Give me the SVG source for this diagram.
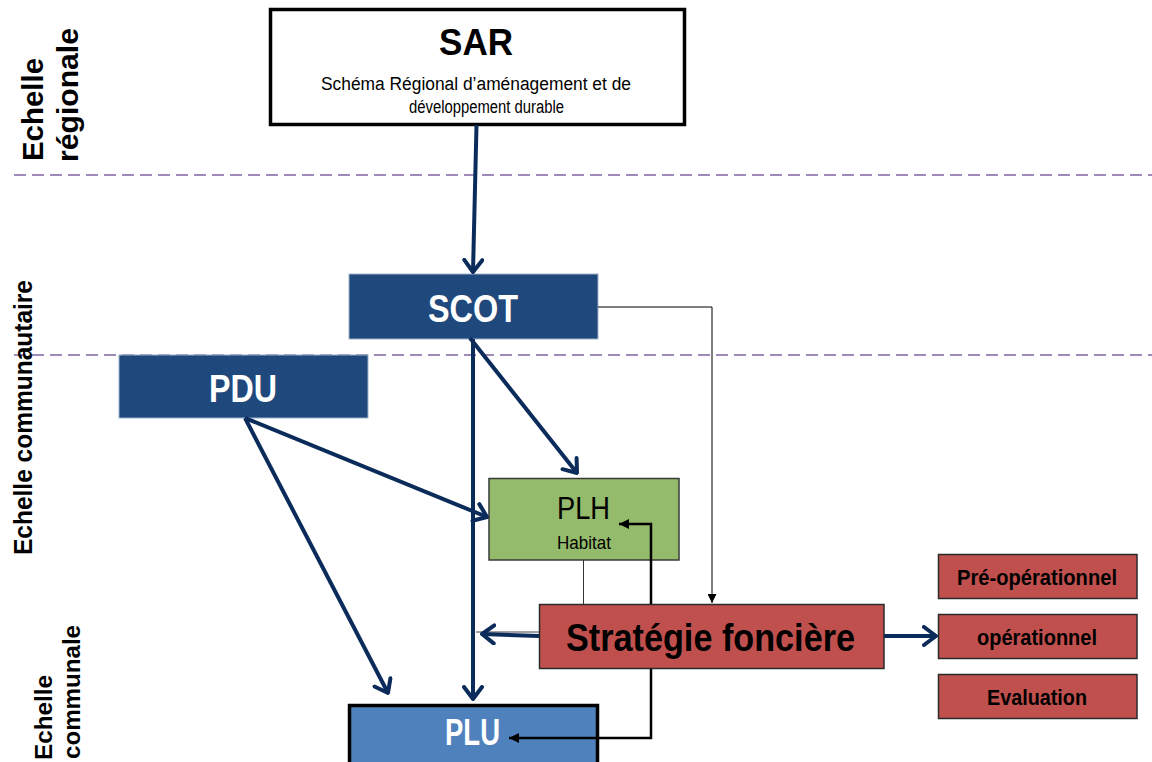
<svg xmlns="http://www.w3.org/2000/svg" width="1152" height="762" viewBox="0 0 1152 762">
<style>
.axis{font-family:"Liberation Sans",Arial,sans-serif;font-weight:bold;fill:#000}
.cond{font-family:"Liberation Sans Narrow","Liberation Sans",Arial,sans-serif}
.w{fill:#fff;font-weight:bold}
.b{fill:#000;font-weight:bold}
.nav{stroke:#0b2c5b;stroke-width:4;fill:none}
.blk{stroke:#000;stroke-width:2.5;fill:none}
.thin{stroke:#000;stroke-width:1;fill:none}
.dash{stroke:#8064A2;stroke-width:1.5;stroke-dasharray:12 6;fill:none}
.dark{fill:#1F497D;stroke:#9fb3cc;stroke-width:1}
.red{fill:#C0504D;stroke:#2a2a2a;stroke-width:1.5}
</style>
<defs>
<marker id="chev" markerUnits="userSpaceOnUse" viewBox="0 0 16 22" refX="14" refY="11" markerWidth="16" markerHeight="22" orient="auto">
<path d="M2,2 L14,11 L2,20" fill="none" stroke="#0b2c5b" stroke-width="4" stroke-linecap="round" stroke-linejoin="round"/>
</marker>
<marker id="tri" markerUnits="userSpaceOnUse" viewBox="0 0 10 10" refX="10" refY="5" markerWidth="11" markerHeight="10" orient="auto">
<path d="M0,0 L10,5 L0,10 Z" fill="#000"/>
</marker>
<marker id="tris" markerUnits="userSpaceOnUse" viewBox="0 0 10 10" refX="10" refY="5" markerWidth="9" markerHeight="9" orient="auto">
<path d="M0,0 L10,5 L0,10 Z" fill="#000"/>
</marker>
</defs>
<rect width="1152" height="762" fill="#fff"/>

<g id="separators">
<line class="dash" x1="14" y1="175" x2="1152" y2="175"/>
<line class="dash" x1="14" y1="355" x2="1152" y2="355"/>
</g>

<g id="axis-labels">
<text class="axis" font-size="29" transform="translate(43,161) rotate(-90)" textLength="103" lengthAdjust="spacingAndGlyphs">Echelle</text>
<text class="axis" font-size="29" transform="translate(78,162) rotate(-90)" textLength="134" lengthAdjust="spacingAndGlyphs">régionale</text>
<text class="axis" font-size="25" transform="translate(32,555) rotate(-90)" textLength="275" lengthAdjust="spacingAndGlyphs">Echelle communautaire</text>
<text class="axis" font-size="24" transform="translate(52,760) rotate(-90)" textLength="85" lengthAdjust="spacingAndGlyphs">Echelle</text>
<text class="axis" font-size="24" transform="translate(80,759) rotate(-90)" textLength="134" lengthAdjust="spacingAndGlyphs">communale</text>
</g>

<g id="sar">
<rect x="270.5" y="9.5" width="414" height="115" fill="#fff" stroke="#000" stroke-width="3.5"/>
<text x="476" y="55" text-anchor="middle" font-family="Liberation Sans, Arial, sans-serif" font-weight="bold" font-size="37" textLength="74" lengthAdjust="spacingAndGlyphs">SAR</text>
<text class="cond" x="476" y="90" text-anchor="middle" font-size="18" textLength="310" lengthAdjust="spacingAndGlyphs">Schéma Régional d’aménagement et de</text>
<text class="cond" x="486.5" y="113" text-anchor="middle" font-size="18" textLength="155" lengthAdjust="spacingAndGlyphs">développement durable</text>
</g>

<g id="scot">
<rect class="dark" x="349" y="274" width="249" height="65"/>
<text class="cond w" x="473" y="322" text-anchor="middle" font-size="39" textLength="90" lengthAdjust="spacingAndGlyphs">SCOT</text>
</g>

<g id="pdu">
<rect class="dark" x="119" y="355" width="249" height="63"/>
<text class="cond w" x="243" y="402" text-anchor="middle" font-size="39" textLength="68" lengthAdjust="spacingAndGlyphs">PDU</text>
</g>

<g id="plh">
<rect x="489" y="478.5" width="190" height="81.5" fill="#94BA6B" stroke="#3a3a3a" stroke-width="1.5"/>
<text class="cond" x="583.5" y="519" text-anchor="middle" font-size="32" textLength="53" lengthAdjust="spacingAndGlyphs">PLH</text>
<text class="cond" x="584" y="549" text-anchor="middle" font-size="19" textLength="54" lengthAdjust="spacingAndGlyphs">Habitat</text>
</g>

<g id="strategie">
<rect class="red" x="539.5" y="604.5" width="344.5" height="64"/>
<text class="cond b" x="710.5" y="651" text-anchor="middle" font-size="38" textLength="289" lengthAdjust="spacingAndGlyphs">Stratégie foncière</text>
</g>

<g id="pre-operationnel">
<rect class="red" x="938.5" y="554.5" width="198.5" height="44"/>
<text class="cond b" x="1037" y="585" text-anchor="middle" font-size="22" textLength="160" lengthAdjust="spacingAndGlyphs">Pré-opérationnel</text>
</g>
<g id="operationnel">
<rect class="red" x="938.5" y="614.5" width="198.5" height="44"/>
<text class="cond b" x="1037" y="645" text-anchor="middle" font-size="22" textLength="120" lengthAdjust="spacingAndGlyphs">opérationnel</text>
</g>
<g id="evaluation">
<rect class="red" x="938.5" y="674.5" width="198.5" height="44"/>
<text class="cond b" x="1037" y="705" text-anchor="middle" font-size="22" textLength="100" lengthAdjust="spacingAndGlyphs">Evaluation</text>
</g>

<g id="plu">
<rect x="349.5" y="705.5" width="248" height="70" fill="#4F81BD" stroke="#000" stroke-width="3.5"/>
<text class="cond w" x="472.5" y="745" text-anchor="middle" font-size="36" textLength="55" lengthAdjust="spacingAndGlyphs">PLU</text>
</g>

<g id="connectors">
<line class="nav" x1="476.5" y1="125" x2="473" y2="272" marker-end="url(#chev)"/>
<line class="nav" x1="473" y1="339" x2="473" y2="699" marker-end="url(#chev)"/>
<line class="nav" x1="470" y1="338" x2="577" y2="473" marker-end="url(#chev)"/>
<line class="nav" x1="245" y1="418" x2="487" y2="517" marker-end="url(#chev)"/>
<line class="nav" x1="245" y1="418" x2="388" y2="693" marker-end="url(#chev)"/>
<line x1="476" y1="632" x2="539" y2="632" stroke="#444" stroke-width="1"/>
<line class="nav" x1="539" y1="636" x2="482" y2="634" marker-end="url(#chev)"/>
<line class="nav" x1="884" y1="636" x2="936" y2="636" marker-end="url(#chev)"/>
<polyline class="thin" points="598,307 712,307 712,603" marker-end="url(#tris)"/>
<line x1="583.5" y1="560" x2="583.5" y2="604" stroke="#333" stroke-width="1"/>
<polyline class="blk" points="651,604 651,524 619,524" marker-end="url(#tri)"/>
<polyline class="blk" points="651,669 651,738 509,738" marker-end="url(#tri)"/>
</g>
</svg>
